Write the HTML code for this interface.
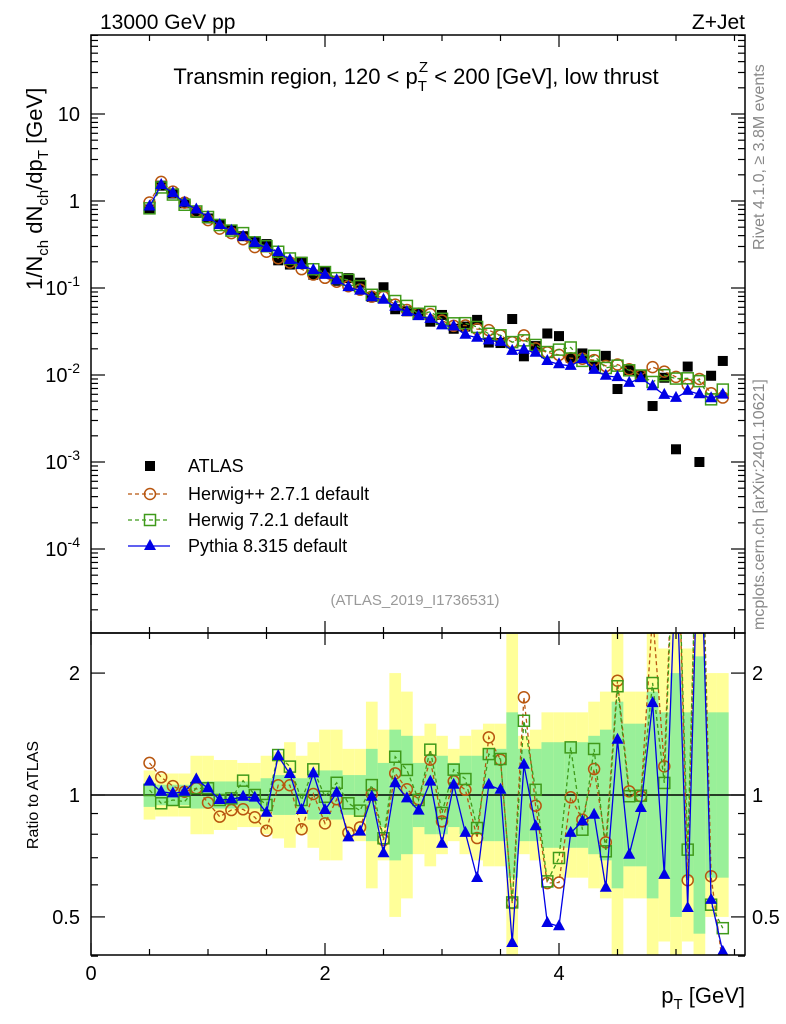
<!DOCTYPE html>
<html><head><meta charset="utf-8"><style>
html,body{margin:0;padding:0;background:#fff;}
svg{display:block;font-family:"Liberation Sans",sans-serif;}
</style></head><body>
<svg id="c" width="786" height="1024" viewBox="0 0 786 1024" xmlns="http://www.w3.org/2000/svg">
<defs>
<clipPath id="clipMain"><rect x="91" y="35" width="654" height="598"/></clipPath>
<clipPath id="clipRatio"><rect x="91" y="633" width="654" height="322"/></clipPath>
</defs>
<g id="bands" clip-path="url(#clipRatio)"></g>
<g id="ratioMarks" clip-path="url(#clipRatio)"></g>
<g id="mainMarks" clip-path="url(#clipMain)"></g>
<g id="axes"></g>
<text x="100" y="29" font-size="21">13000 GeV pp</text>
<text x="745" y="29" font-size="21" text-anchor="end">Z+Jet</text>
<text x="416" y="84" font-size="22" text-anchor="middle">Transmin region, 120 &lt; p<tspan font-size="15" dy="7">T</tspan><tspan font-size="15" dx="-8" dy="-19">Z</tspan><tspan dy="12"> &lt; 200 [GeV], low thrust</tspan></text>
<text transform="translate(42,290) rotate(-90)" font-size="22">1/N<tspan font-size="15" dy="6">ch</tspan><tspan dy="-6"> dN</tspan><tspan font-size="15" dy="6">ch</tspan><tspan dy="-6">/dp</tspan><tspan font-size="15" dy="6">T</tspan><tspan dy="-6"> [GeV]</tspan></text>
<text transform="translate(764,250) rotate(-90)" font-size="16" fill="#888">Rivet 4.1.0, ≥ 3.8M events</text>
<text transform="translate(764,630) rotate(-90)" font-size="16" fill="#888">mcplots.cern.ch [arXiv:2401.10621]</text>
<text x="415" y="605" font-size="15" fill="#999" text-anchor="middle">(ATLAS_2019_I1736531)</text>
<text transform="translate(38,795) rotate(-90)" font-size="16" text-anchor="middle">Ratio to ATLAS</text>
<text x="745" y="1003" font-size="22" text-anchor="end">p<tspan font-size="15" dy="6">T</tspan><tspan dy="-6"> [GeV]</tspan></text>
<g id="legend"></g>
</svg>
<script>
const bins=[0.5,0.6,0.7,0.8,0.9,1.0,1.1,1.2,1.3,1.4,1.5,1.6,1.7,1.8,1.9,2.0,2.1,2.2,2.3,2.4,2.5,2.6,2.7,2.8,2.9,3.0,3.1,3.2,3.3,3.4,3.5,3.6,3.7,3.8,3.9,4.0,4.1,4.2,4.3,4.4,4.5,4.6,4.7,4.8,4.9,5.0,5.1,5.2,5.3,5.4];
const atlas=[0.80,1.50,1.22,0.94,0.73,0.63,0.545,0.466,0.394,0.335,0.32,0.208,0.186,0.200,0.142,0.154,0.121,0.130,0.115,0.079,0.102,0.057,0.054,0.052,0.041,0.049,0.034,0.036,0.043,0.0236,0.0233,0.044,0.0164,0.0215,0.030,0.028,0.0158,0.0177,0.0128,0.0166,0.0069,0.0114,0.0099,0.0044,0.0093,0.0014,0.0125,0.0010,0.0098,0.0145];
const ratioHerwigpp=[1.20,1.106,1.052,1.019,1.039,0.957,0.884,0.918,0.922,0.881,0.816,1.057,1.057,0.823,1.006,0.851,0.976,0.807,0.832,1.006,0.774,1.131,1.033,0.976,1.222,0.861,1.081,1.030,0.783,1.388,1.222,0.541,1.743,0.941,0.606,0.608,0.987,0.869,1.159,0.764,1.915,1.021,0.993,2.8,1.177,6.8,0.616,9.0,0.630,0.38];
const ratioHerwig7=[1.029,0.954,0.972,0.963,1.039,1.039,0.972,0.981,1.085,1.0,0.945,1.255,1.175,0.972,1.157,0.990,1.072,0.954,0.915,1.058,0.782,1.243,1.153,0.972,1.294,0.903,1.155,1.095,0.829,1.262,1.227,0.543,1.525,1.030,0.612,0.699,1.311,0.821,1.299,0.726,1.856,0.993,0.996,1.89,1.071,6.5,0.733,8.5,0.536,0.469];
const ratioPythia=[1.079,1.019,1.009,1.019,1.093,1.039,0.972,0.976,0.990,0.985,0.904,1.248,1.127,0.918,1.131,0.918,1.013,0.786,0.812,0.990,0.718,1.069,0.981,0.915,1.079,0.758,1.060,0.806,0.624,1.060,1.030,0.431,1.188,0.837,0.483,0.474,0.806,0.861,0.894,0.590,1.369,0.712,0.929,1.686,0.635,3.9,0.526,6.0,0.551,0.41];
const bandYellow=[1.15,1.13,1.13,1.13,1.25,1.25,1.22,1.22,1.2,1.2,1.25,1.28,1.35,1.25,1.35,1.45,1.45,1.3,1.3,1.7,1.45,2.0,1.8,1.4,1.5,1.4,1.3,1.4,1.45,1.5,1.5,2.5,1.4,1.45,1.6,1.6,1.6,1.6,1.7,1.8,2.5,1.8,1.8,2.8,2.3,3.0,2.3,3.0,2.0,2.0];
const bandGreen=[1.07,1.06,1.06,1.06,1.08,1.08,1.08,1.08,1.08,1.08,1.1,1.12,1.12,1.1,1.15,1.15,1.15,1.12,1.12,1.3,1.2,1.45,1.4,1.2,1.25,1.25,1.2,1.25,1.25,1.3,1.3,1.6,1.3,1.3,1.35,1.35,1.35,1.35,1.4,1.45,1.7,1.5,1.5,1.8,1.6,2.0,1.6,2.2,1.6,1.6];
const xTicksMajor=[0,2,4];
const yMainLabels=["10","1","10^-1","10^-2","10^-3","10^-4"];
const yMainExp=[1,0,-1,-2,-3,-4];
const yRatioLabels=["0.5","1","2"];
const yRatioVals=[0.5,1,2];

const NS="http://www.w3.org/2000/svg";
const X=v=>91+117*v;
const YM=v=>201-87*Math.log10(v);
const YR=r=>795-405*Math.log10(r);
function mk(tag,attrs,parent){const e=document.createElementNS(NS,tag);for(const k in attrs)e.setAttribute(k,attrs[k]);parent.appendChild(e);return e;}
const C={hpp:"#b8560f",h7:"#3f9a1a",py:"#0000e6"};
const gB=document.getElementById('bands'),gR=document.getElementById('ratioMarks'),gM=document.getElementById('mainMarks'),gA=document.getElementById('axes'),gL=document.getElementById('legend');

bins.forEach((b,i)=>{
  const x0=X(b-0.05),w=117*0.1;
  const y=mk('rect',{x:x0,y:YR(bandYellow[i]),width:w,height:YR(1/bandYellow[i])-YR(bandYellow[i]),fill:"#ffff99"},gB);
  
  
});
bins.forEach((b,i)=>{
  const x0=X(b-0.05),w=117*0.1;
  const g=mk('rect',{x:x0,y:YR(bandGreen[i]),width:w,height:YR(1/bandGreen[i])-YR(bandGreen[i]),fill:"#99f099"},gB);
  
  
});
const one=mk('line',{x1:91,x2:745,y1:YR(1),y2:YR(1),stroke:"#000","stroke-width":1.5},gR);



function marker(kind,cx,cy,parent,name){
  let e;
  if(kind==='atlas') e=mk('rect',{x:cx-5,y:cy-5,width:10,height:10,fill:"#000"},parent);
  else if(kind==='hpp') e=mk('circle',{cx:cx,cy:cy,r:5.5,fill:"none",stroke:C.hpp,"stroke-width":1.5},parent);
  else if(kind==='h7') e=mk('rect',{x:cx-5.5,y:cy-5.5,width:11,height:11,fill:"none",stroke:C.h7,"stroke-width":1.5},parent);
  else e=mk('polygon',{points:`${cx},${cy-7} ${cx-6},${cy+4} ${cx+6},${cy+4}`,fill:C.py},parent);
  
  
}
function series(kind,vals,Yf,parent,dash,name){
  const pts=bins.map((b,i)=>X(b).toFixed(1)+","+Yf(vals[i]).toFixed(1)).join(" ");
  const pl=mk('polyline',{points:pts,fill:"none",stroke:C[kind],"stroke-width":1.3,"stroke-dasharray":dash||""},parent);
  
  
  bins.forEach((b,i)=>marker(kind,X(b),Yf(vals[i]),parent,name+'-point'));
}
series('hpp',ratioHerwigpp,YR,gR,"4,3",'herwigpp-ratio');
series('h7',ratioHerwig7,YR,gR,"4,3",'herwig7-ratio');
series('py',ratioPythia,YR,gR,"",'pythia-ratio');
bins.forEach((b,i)=>marker('atlas',X(b),YM(atlas[i]),gM,'atlas-point'));
series('hpp',atlas.map((a,i)=>a*ratioHerwigpp[i]),YM,gM,"4,3",'herwigpp');
series('h7',atlas.map((a,i)=>a*ratioHerwig7[i]),YM,gM,"4,3",'herwig7');
series('py',atlas.map((a,i)=>a*ratioPythia[i]),YM,gM,"",'pythia');

[[35,598],[633,322]].forEach(([y,h])=>{const f=mk('rect',{x:91,y:y,width:654,height:h,fill:"none",stroke:"#000","stroke-width":1.5},gA);

});
for(let v=0;v<=5.5;v+=0.5){
  const maj=xTicksMajor.includes(v);
  const L=maj?12:6;
  [[633,-1],[955,-1],[35,1],[633,1]].forEach(([y0,d])=>mk('line',{x1:X(v),x2:X(v),y1:y0,y2:y0+d*L,stroke:"#000","stroke-width":1.2},gA));
}
xTicksMajor.forEach(v=>{const t=mk('text',{x:X(v),y:980,"font-size":20,"text-anchor":"middle"},gA);t.textContent=v;

});
for(let e=-5;e<=1;e++){for(let m=1;m<=9;m++){const v=m*Math.pow(10,e);const y=YM(v);if(y<35||y>633)continue;const L=m===1?14:7;
 mk('line',{x1:91,x2:91+L,y1:y,y2:y,stroke:"#000","stroke-width":1.2},gA);mk('line',{x1:745,x2:745-L,y1:y,y2:y,stroke:"#000","stroke-width":1.2},gA);}}
yMainLabels.forEach((s,i)=>{const y=YM(Math.pow(10,yMainExp[i]))+7;const t=mk('text',{x:80,y:y,"font-size":20,"text-anchor":"end"},gA);
 
 
 if(s.includes('^')){const [b,p]=s.split('^');t.appendChild(document.createTextNode(b));const ts=mk('tspan',{"font-size":14,dy:-9},t);ts.textContent=p;}
 else t.textContent=s;});
[0.4,0.5,0.6,0.7,0.8,0.9,1,2].forEach(v=>{const y=YR(v);const L=(v===0.5||v===1||v===2)?14:7;
 mk('line',{x1:91,x2:91+L,y1:y,y2:y,stroke:"#000","stroke-width":1.2},gA);mk('line',{x1:745,x2:745-L,y1:y,y2:y,stroke:"#000","stroke-width":1.2},gA);});
yRatioVals.forEach((v,i)=>{[[80,"end"],[752,"start"]].forEach(([x,a])=>{const t=mk('text',{x:x,y:YR(v)+7,"font-size":20,"text-anchor":a},gA);t.textContent=yRatioLabels[i];
 
 });});
const leg=[['atlas','ATLAS',466],['hpp','Herwig++ 2.7.1 default',494],['h7','Herwig 7.2.1 default',520],['py','Pythia 8.315 default',546]];
leg.forEach(([k,lab,y])=>{
  if(k!=='atlas'){mk('line',{x1:128,x2:170,y1:y,y2:y,stroke:C[k],"stroke-width":1.3,"stroke-dasharray":k==='py'?"":"4,3"},gL);}
  marker(k,150,y,gL,'legend-marker');
  const t=mk('text',{x:188,y:y+6,"font-size":18},gL);t.textContent=lab;
  
  
});
</script>
</body></html>
